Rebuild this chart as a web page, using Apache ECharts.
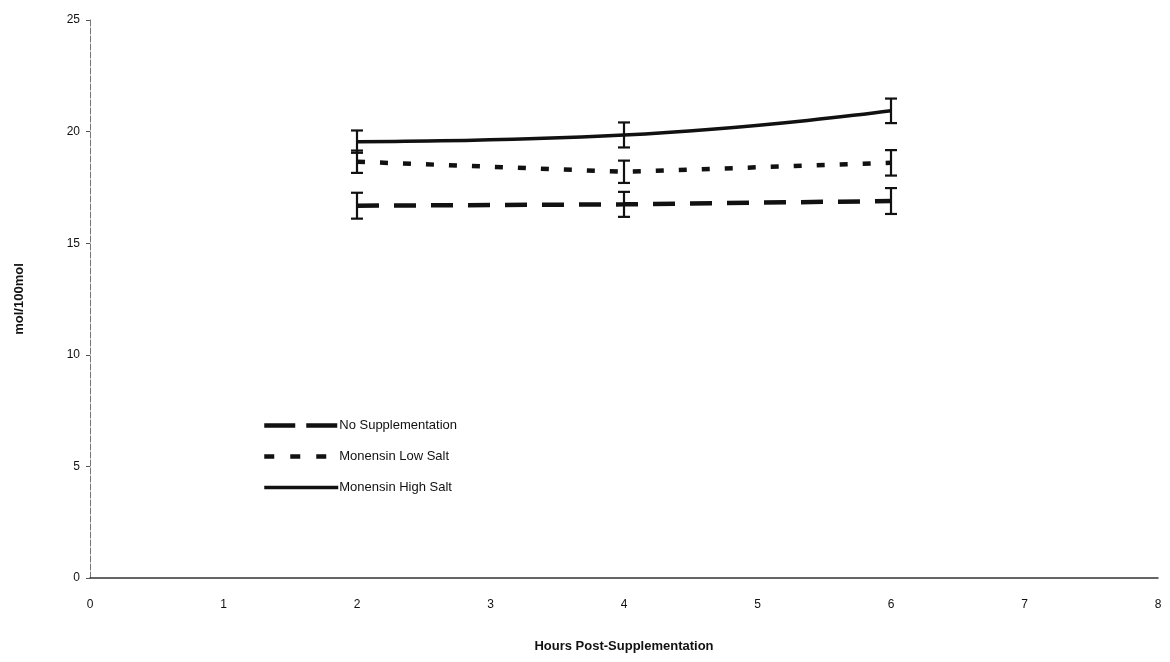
<!DOCTYPE html>
<html>
<head>
<meta charset="utf-8">
<script src="https://cdn.jsdelivr.net/npm/echarts@6/dist/echarts.min.js"></script>
<style>html,body{margin:0;padding:0;background:#fff}#c{width:1170px;height:662px}</style>
</head>
<body>
<div id="c"></div>
<script>
const hours = [2, 4, 6];
const noSupp = [16.68, 16.74, 16.89];
const noSuppErr = [0.58, 0.56, 0.58];
const lowSalt = [18.65, 18.2, 18.6];
const lowSaltErr = [0.5, 0.5, 0.57];
const highSalt = [19.55, 19.85, 20.93];
const highSaltErr = [0.5, 0.56, 0.55];
const seriesNames = ['No Supplementation', 'Monensin Low Salt', 'Monensin High Salt'];
const dashTypes = [[22, 15], [8, 15], 'solid'];
const legendDash = [[31, 11], [10, 16], 'solid'];
const lineWidths = [4.5, 4.5, 3.5];

function pairs(v) { return hours.map((h, i) => [h, v[i]]); }
function errData(v, e) { return hours.map((h, i) => [h, v[i] - e[i], v[i] + e[i]]); }

function errSeries(v, e) {
  return {
    type: 'custom',
    silent: true,
    z: 5,
    data: errData(v, e),
    renderItem: function (params, api) {
      const x = api.value(0);
      const lo = api.coord([x, api.value(1)]);
      const hi = api.coord([x, api.value(2)]);
      const w = 6;
      const st = { stroke: '#111', lineWidth: 2.2 };
      return {
        type: 'group',
        children: [
          { type: 'line', shape: { x1: lo[0], y1: lo[1], x2: hi[0], y2: hi[1] }, style: st },
          { type: 'line', shape: { x1: lo[0] - w, y1: lo[1], x2: lo[0] + w, y2: lo[1] }, style: st },
          { type: 'line', shape: { x1: hi[0] - w, y1: hi[1], x2: hi[0] + w, y2: hi[1] }, style: st }
        ]
      };
    }
  };
}

const chart = echarts.init(document.getElementById('c'));
chart.setOption({
  animation: false,
  backgroundColor: '#fff',
  textStyle: { fontFamily: 'Liberation Sans, Arial, sans-serif' },
  grid: { left: 90, right: 12, top: 20, bottom: 84 },
  legend: {
    orient: 'vertical',
    left: 257,
    top: 414,
    itemWidth: 74,
    itemHeight: 14,
    itemGap: 18,
    itemStyle: { opacity: 0 },
    data: seriesNames.map((n, i) => ({
      name: n,
      itemStyle: { opacity: 0 },
      lineStyle: { width: lineWidths[i], type: legendDash[i], color: '#111', opacity: 1 }
    })),
    textStyle: { fontSize: 13, color: '#111', padding: [0, 0, 0, -4] }
  },
  xAxis: {
    type: 'value',
    min: 0, max: 8, interval: 1,
    name: 'Hours Post-Supplementation',
    nameLocation: 'middle',
    nameGap: 62,
    nameTextStyle: { fontSize: 13, fontWeight: 'bold', color: '#111' },
    axisLine: { lineStyle: { color: '#333', width: 1.5 } },
    axisTick: { show: false },
    axisLabel: { fontSize: 12, color: '#111', margin: 21 },
    splitLine: { show: false }
  },
  yAxis: {
    type: 'value',
    min: 0, max: 25, interval: 5,
    name: 'mol/100mol',
    nameLocation: 'middle',
    nameGap: 64,
    nameTextStyle: { fontSize: 13, fontWeight: 'bold', color: '#111' },
    axisLine: { show: true, lineStyle: { color: '#777', width: 1, type: [6, 2] } },
    axisTick: { show: true, length: 4, lineStyle: { color: '#555' } },
    axisLabel: { fontSize: 12, color: '#111', margin: 10 },
    splitLine: { show: false }
  },
  series: [
    {
      name: seriesNames[0], type: 'line', data: pairs(noSupp), symbol: 'none',
      z: 3,
      lineStyle: { color: '#111', width: lineWidths[0], type: dashTypes[0] },
      itemStyle: { color: '#111' }
    },
    {
      name: seriesNames[1], type: 'line', data: pairs(lowSalt), symbol: 'none',
      z: 3,
      lineStyle: { color: '#111', width: lineWidths[1], type: dashTypes[1] },
      itemStyle: { color: '#111' }
    },
    {
      name: seriesNames[2], type: 'line', data: pairs(highSalt), symbol: 'none', smooth: 0.5,
      z: 3,
      lineStyle: { color: '#111', width: lineWidths[2] },
      itemStyle: { color: '#111' }
    },
    errSeries(noSupp, noSuppErr),
    errSeries(lowSalt, lowSaltErr),
    errSeries(highSalt, highSaltErr)
  ]
});
</script>
</body>
</html>
